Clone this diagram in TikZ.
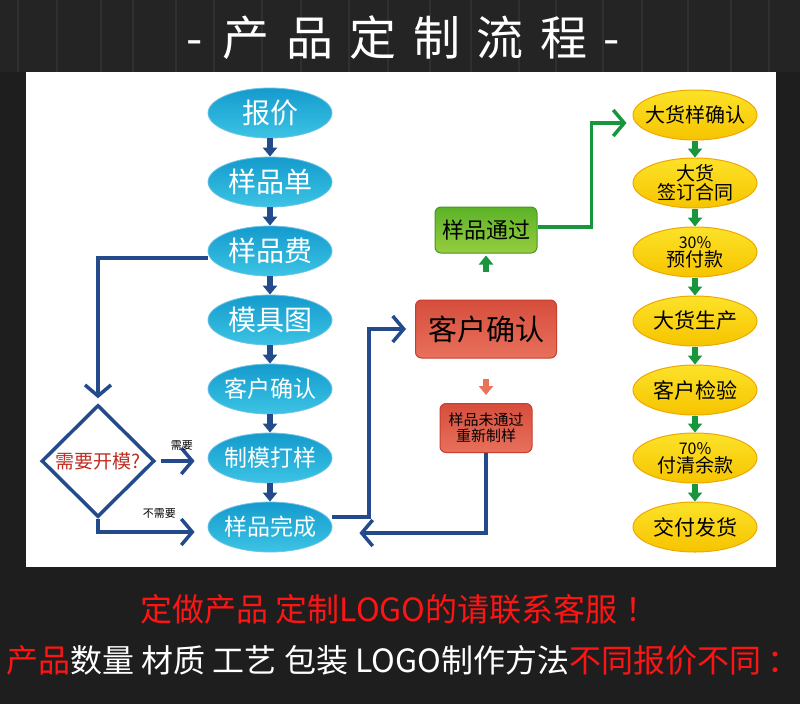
\documentclass[tikz,border=0pt]{standalone}
\usepackage{fontspec}
\setmainfont{Noto Sans CJK SC}
\newfontfamily\titlefont[LetterSpace=35]{Noto Sans CJK SC}
\usetikzlibrary{arrows.meta,shapes.geometric}

\definecolor{navy}{RGB}{35,75,140}
\definecolor{leaf}{RGB}{25,150,60}
\definecolor{salmon}{RGB}{232,115,90}
\definecolor{bgdark}{RGB}{30,30,30}
\definecolor{wood}{RGB}{36,36,36}
\definecolor{grain}{RGB}{48,48,48}
\definecolor{hotred}{RGB}{255,20,20}
\definecolor{askred}{RGB}{190,45,35}

\newcommand{\fsz}[1]{\fontsize{#1}{#1}\selectfont}

\begin{document}
\begin{tikzpicture}[
    x=1pt, y=-1pt,
    bubble/.style={ellipse, minimum width=124pt, minimum height=50pt, inner xsep=-12pt, inner ysep=-6pt,
      top color={rgb,255:red,20;green,155;blue,205}, bottom color={rgb,255:red,60;green,195;blue,228},
      draw={rgb,255:red,110;green,195;blue,230}, line width=0.8pt, text=white},
    gold/.style={ellipse, minimum width=124pt, minimum height=50pt, inner xsep=-12pt, inner ysep=-8pt, align=center,
      top color={rgb,255:red,252;green,226;blue,40}, bottom color={rgb,255:red,246;green,196;blue,0},
      draw={rgb,255:red,238;green,168;blue,0}, line width=1pt, text=black},
    tile/.style={draw, rounded corners=6pt, align=center, inner sep=0pt, text=black},
    redtile/.style={tile, top color={rgb,255:red,214;green,78;blue,60}, bottom color={rgb,255:red,232;green,112;blue,92},
      draw={rgb,255:red,200;green,62;blue,46}, line width=1pt},
    greentile/.style={tile, top color={rgb,255:red,92;green,178;blue,40}, bottom color={rgb,255:red,150;green,205;blue,62},
      draw={rgb,255:red,70;green,150;blue,35}, line width=1pt},
    ask/.style={diamond, draw=navy, line width=3.5pt, fill=white, inner sep=0pt,
      minimum width=113pt, minimum height=112pt, text=askred},
    down/.style={-{Triangle[width=14pt,length=9pt]}, line width=5.5pt, draw=navy},
    gdown/.style={down, draw=leaf},
    loop/.style={-{Straight Barb[length=11pt,width=26pt,line width=3.5pt]}, line width=3.5pt, draw=navy},
    gloop/.style={loop, draw=leaf},
  ]
    \useasboundingbox (0,0) rectangle (800,704);
    \fill[bgdark] (0,0) rectangle (800,704);
    \fill[wood] (0,0) rectangle (800,72);
    % wood grain
    \foreach \gx in {18,57,101,133,176,214,262,301,349,388,430,471,519,556,603,642,688,731,769}
      \draw[grain, line width=1.5pt] (\gx,0) -- (\gx,72);
    \fill[white] (26,72) rectangle (776,567);

    % title
    \node[text=white, font=\titlefont\fsz{47}] (title) at (403,38) {-\hspace{20pt}产品定制流程\hspace{16pt}-};

    % sample column
    \node[bubble, font=\fsz{28}] (quote) at (270,113) {报价};
    \node[bubble, font=\fsz{28}] (sheet) at (270,182) {样品单};
    \node[bubble, font=\fsz{28}] (fee) at (270,251) {样品费};
    \node[bubble, font=\fsz{28}] (mould) at (270,320) {模具图};
    \node[bubble, font=\fsz{23}] (confirm) at (270,389) {客户确认};
    \node[bubble, font=\fsz{23}] (proof) at (270,458) {制模打样};
    \node[bubble, font=\fsz{23}] (done) at (270,527) {样品完成};

    \node[ask, font=\fsz{19}] (need) at (98,461) {需要开模?};

    % customer check
    \node[redtile, minimum width=141pt, minimum height=58pt, font=\fsz{29}] (check) at (486,329) {客户确认};
    \node[greentile, minimum width=102pt, minimum height=46pt, font=\fsz{22}] (pass) at (486,230) {样品通过};
    \node[redtile, minimum width=92pt, minimum height=49pt, font=\fsz{15}] (retry) at (486,428) {样品未通过\\[1pt]重新制样};

    % bulk column
    \node[gold, font=\fsz{20}] (bulk) at (695,115) {大货样确认};
    \node[gold, font=\fsz{19}] (deal) at (695,183) {大货\\签订合同};
    \node[gold] (pre) at (695,252) {{\fsz{16}30\%}\\[1pt]{\fsz{19}预付款}};
    \node[gold, font=\fsz{21}] (make) at (695,321) {大货生产};
    \node[gold, font=\fsz{21}] (inspect) at (695,390) {客户检验};
    \node[gold] (rest) at (695,458) {{\fsz{16}70\%}\\[1pt]{\fsz{19}付清余款}};
    \node[gold, font=\fsz{21}] (ship) at (695,527) {交付发货};

    \draw[down] (quote) -- (sheet);
    \draw[down] (sheet) -- (fee);
    \draw[down] (fee) -- (mould);
    \draw[down] (mould) -- (confirm);
    \draw[down] (confirm) -- (proof);
    \draw[down] (proof) -- (done);

    \draw[loop, shorten >=5pt] ([yshift=-7pt]fee.west) -| (need.north);
    \draw[loop, shorten <=5pt, shorten >=13pt] (need.east) -- node[above=6pt, font=\fsz{11}, text=black] {需要} (proof.west |- need.east);
    \draw[loop, shorten >=13pt] (need.south) |- ([yshift=-5pt]done.west) node[pos=0.78, above=9pt, font=\fsz{11}, text=black] {不需要};

    \draw[loop, shorten >=9pt] ([yshift=10pt]done.east) -| ([xshift=-46pt]check.west) -- (check.west);
    \draw[loop, shorten >=27pt] (retry.south) |- ([yshift=-6pt]done.east);

    \draw[gdown, shorten <=28pt, shorten >=2pt] (check.north) -- (pass.south);
    \draw[down, draw=salmon, shorten <=20pt, shorten >=8pt] (check.south) -- (retry.north);
    \draw[gloop, shorten >=6pt] ([yshift=3pt]pass.east) -| ([xshift=-41pt, yshift=-8pt]bulk.west) -- ([yshift=-8pt]bulk.west);

    \draw[gdown] (bulk) -- (deal);
    \draw[gdown] (deal) -- (pre);
    \draw[gdown] (pre) -- (make);
    \draw[gdown] (make) -- (inspect);
    \draw[gdown] (inspect) -- (rest);
    \draw[gdown] (rest) -- (ship);

    % footer
    \node[text=hotred, font=\fsz{32}] (call) at (399,609) {定做产品 定制LOGO的请联系客服\hspace{8pt}！};
    \node[font=\fsz{32}] (price) at (403,660) {\textcolor{hotred}{产品}\textcolor{white}{数量 材质 工艺 包装 LOGO制作方法}\textcolor{hotred}{不同报价不同\hspace{6pt}：}};
\end{tikzpicture}
\end{document}
